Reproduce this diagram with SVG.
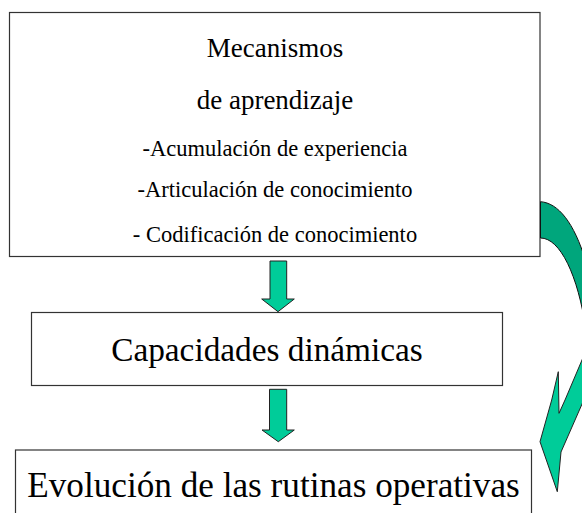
<svg xmlns="http://www.w3.org/2000/svg" width="582" height="513" viewBox="0 0 582 513">
<style>
.box{fill:#fff;stroke:#333;stroke-width:1.2}
.t{fill:#000;text-anchor:middle}
.arr{fill:#00CC99;stroke:#222;stroke-width:1}
.dark{fill:#00A67C;stroke:#111;stroke-width:1}
</style>
<g id="node-mecanismos">
<rect class="box" x="9.5" y="12.5" width="530.5" height="244"/>
<g font-family="Liberation Serif, Times New Roman, serif">
<text class="t" x="275" y="56.5" font-size="27">Mecanismos</text>
<text class="t" x="275" y="109" font-size="27">de aprendizaje</text>
<text class="t" x="275" y="155.5" font-size="22.5">-Acumulación de experiencia</text>
<text class="t" x="275" y="197" font-size="22.5">-Articulación de conocimiento</text>
<text class="t" x="275" y="241.5" font-size="22.5">- Codificación de conocimiento</text>
</g>
</g>
<g id="node-capacidades">
<rect class="box" x="31.5" y="312.5" width="471" height="73"/>
<text class="t" x="267" y="360.5" font-size="33.3" font-family="Liberation Serif, Times New Roman, serif">Capacidades dinámicas</text>
</g>
<g id="node-evolucion">
<rect class="box" x="15.5" y="450" width="516" height="70"/>
<text class="t" x="273.5" y="496.7" font-size="35.2" font-family="Liberation Serif, Times New Roman, serif">Evolución de las rutinas operativas</text>
</g>
<g id="connectors">
<path class="arr" d="M270,261 H286.7 V299 H294.3 L278,311.7 L261.7,299 H270 Z"/>
<path class="arr" d="M269.5,389.3 H286.7 V430 H294.3 L278.3,441.7 L262,430 H269.5 Z"/>
<path class="dark" d="M540.5,201.7 C558,203 574,222 586,262 L586,330 C578,275 560,238 540.5,238 Z"/>
<path class="arr" d="M558.3,371.7 L551.7,400 L540,441.7 L557.3,491.7 L561,452 L586,395 L586,350 L582,360 L565,400 L559,413.3 Z"/>
</g>
</svg>
